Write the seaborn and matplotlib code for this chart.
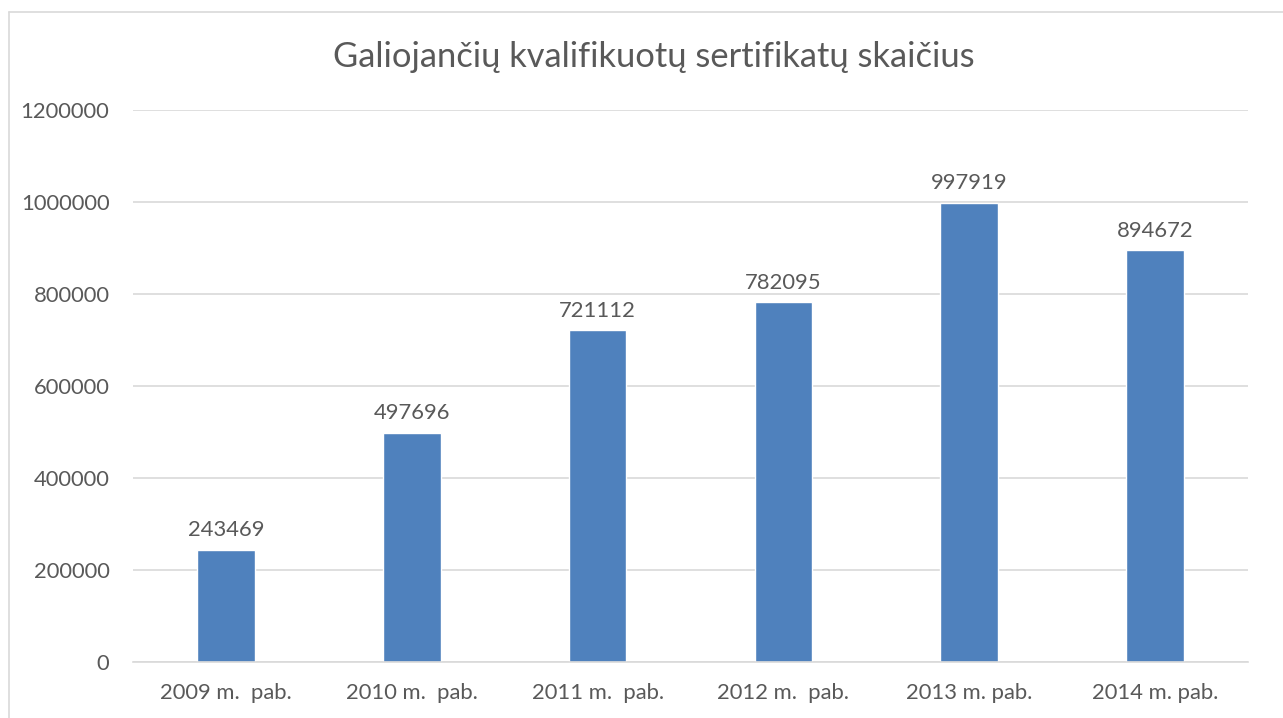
import numpy as np
import matplotlib.pyplot as plt
import seaborn as sns
import pandas as pd
from matplotlib.lines import Line2D

years = ["2009 m.  pab.", "2010 m.  pab.", "2011 m.  pab.", "2012 m.  pab.", "2013 m. pab.", "2014 m. pab."]
counts = [243469, 497696, 721112, 782095, 997919, 894672]
yticks = [0, 200000, 400000, 600000, 800000, 1000000, 1200000]

df = pd.DataFrame({"metai": years, "skaicius": counts})

sns.set_style("white")
plt.rcParams['font.family'] = ['Lato', 'DejaVu Sans']

txt = "#595959"
grid = "#d9d9d9"

fig = plt.figure(figsize=(12.83, 7.18), dpi=100)
ax = fig.add_axes([133/1283, 1-662/718, (1248-133)/1283, (662-110)/718])

# chart frame (only left and top visible in the screenshot)
fx, fy = 8.5/1283, 1-11.5/718
fig.add_artist(Line2D([fx, 1.0], [fy, fy], transform=fig.transFigure, color=grid, lw=1.2))
fig.add_artist(Line2D([fx, fx], [0.0, fy], transform=fig.transFigure, color=grid, lw=1.2))

sns.barplot(data=df, x="metai", y="skaicius", color="#4f81bd", saturation=1, width=0.31, ax=ax)

ax.set_ylim(0, 1200000)
ax.set_yticks(yticks)
ax.set_yticklabels([str(v) for v in yticks])
ax.yaxis.grid(True, color=grid, lw=1.2)
ax.set_axisbelow(True)
for s in ["top", "right", "left"]:
    ax.spines[s].set_visible(False)
ax.spines["bottom"].set_color(grid)
ax.spines["bottom"].set_linewidth(1.2)
ax.tick_params(axis="both", length=0, labelsize=15.8, colors=txt)
ax.tick_params(axis="y", pad=17)
ax.tick_params(axis="x", pad=15)
ax.set_xlabel("")
ax.set_ylabel("")

ax.bar_label(ax.containers[0], labels=[str(v) for v in counts], padding=7, fontsize=15.8, color=txt)

fig.text(0.5 + 12/1283, 1-57/718, "Galiojančių kvalifikuotų sertifikatų skaičius", ha="center", va="center",
         fontsize=24.8, color=txt)

fig.savefig("out.png", dpi=100)
